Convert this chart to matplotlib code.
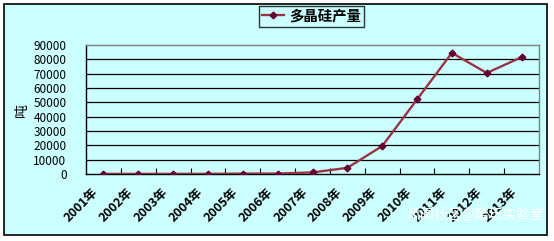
import matplotlib
matplotlib.use("Agg")
import matplotlib.pyplot as plt
from matplotlib.patches import Rectangle
from matplotlib.lines import Line2D
from matplotlib.transforms import ScaledTranslation

plt.rcParams['font.family'] = ['Noto Sans CJK SC', 'DejaVu Sans']

years = ["2001年", "2002年", "2003年", "2004年", "2005年", "2006年", "2007年",
         "2008年", "2009年", "2010年", "2011年", "2012年", "2013年"]
output = [80, 80, 100, 100, 300, 300, 1100, 4300, 19500, 52000, 84500, 70500, 81500]
yticks = [0, 10000, 20000, 30000, 40000, 50000, 60000, 70000, 80000, 90000]
series_name = "多晶硅产量"
y_unit = "吨"
watermark = "风闻社区@酷玩实验室"

W, H = 554, 241
fig = plt.figure(figsize=(W / 100, H / 100), dpi=100)
fig.patch.set_facecolor("white")

bg = "#CCFFFF"
# outer chart area
fig.patches.append(Rectangle((4 / W, 1 - 235 / H), 543 / W, 231 / H, transform=fig.transFigure,
                             facecolor=bg, edgecolor="black", linewidth=1.2, zorder=-5))

ax = fig.add_axes([86 / W, 1 - 174 / H, 453 / W, 129 / H])
ax.set_facecolor(bg)
ax.set_zorder(1)

x = list(range(len(years)))
line_color = "#993344"
marker_color = "#660033"
ax.plot(x, output, color=line_color, linewidth=1.7, zorder=3,
        marker="D", markersize=3.4, markerfacecolor=marker_color, markeredgecolor=marker_color)

ax.set_xlim(-0.5, len(years) - 0.5)
ax.set_ylim(0, 90000)
ax.set_yticks(yticks)
ax.set_yticklabels([str(v) for v in yticks], fontsize=8.5)
ax.tick_params(axis="y", length=0, pad=14)
for v in yticks[1:-1]:
    ax.axhline(v, color="black", linewidth=0.9, zorder=1)

ax.set_xticks(x)
ax.set_xticklabels([])
ax.tick_params(axis="x", which="major", length=0)
ax.set_xticks([i + 0.5 for i in range(len(years) - 1)], minor=True)
ax.tick_params(axis="x", which="minor", direction="in", length=4, width=0.8, color="black")

label_tr = ax.get_xaxis_transform() + ScaledTranslation(-7 / 100, -16 / 100, fig.dpi_scale_trans)
for i, lab in enumerate(years):
    ax.text(i, 0, lab, transform=label_tr, rotation=45, rotation_mode="anchor",
            ha="right", va="center", fontsize=9, fontweight="bold", clip_on=False)

for s in ["top", "right"]:
    ax.spines[s].set_color("#808080")
    ax.spines[s].set_linewidth(1.0)
for s in ["left", "bottom"]:
    ax.spines[s].set_color("black")
    ax.spines[s].set_linewidth(1.0)

fig.text(22 / W, 1 - 110 / H, y_unit, rotation=90, ha="center", va="center", fontsize=10)

handle = Line2D([], [], color=line_color, linewidth=1.7, marker="D", markersize=3.4,
                markerfacecolor=marker_color, markeredgecolor=marker_color)
leg = fig.legend([handle], [series_name], loc="center", bbox_to_anchor=(311.5 / W, 1 - 16.5 / H),
                 frameon=True, fancybox=False, prop={"size": 10.4, "weight": "bold"},
                 handlelength=1.5, handletextpad=0.35, borderpad=0.25, borderaxespad=0)
leg.get_frame().set_edgecolor("black")
leg.get_frame().set_facecolor(bg)
leg.get_frame().set_linewidth(1.0)

fig.text(475 / W, 1 - 215 / H, watermark, ha="center", va="center", fontsize=10, color="white",
         zorder=5)

fig.savefig("out.png", dpi=100, facecolor=fig.get_facecolor())
